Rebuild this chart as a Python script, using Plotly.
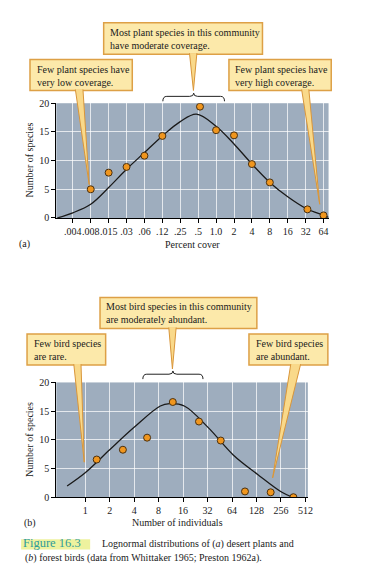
import plotly.graph_objects as go

W, H = 366, 571

# ---------------- data (a) desert plants ----------------
a_tick_labels = ['.004', '.008', '.015', '.03', '.06', '.12', '.25', '.5', '1.0',
                 '2', '4', '8', '16', '32', '64']
a_tick_pos = list(range(len(a_tick_labels)))          # octave class index
a_pts_x = [1, 2, 3, 4, 5, 7.1, 8, 9, 10, 11, 13.1, 14]
a_pts_y = [5.0, 7.9, 8.9, 10.85, 14.3, 19.4, 15.3, 14.4, 9.4, 6.2, 1.5, 0.45]
a_curve_x = [-0.86, 0, 1, 2, 3, 4, 5, 6, 6.9, 8, 9, 10, 11, 12, 13, 14, 14.28]
a_curve_y = [0.0, 0.9, 2.4, 5.3, 8.5, 11.4, 14.3, 16.8, 18.1, 16.0, 12.9, 9.4, 6.2,
             3.7, 1.7, 0.45, 0.1]

# ---------------- data (b) forest birds ----------------
b_tick_labels = ['1', '2', '4', '8', '16', '32', '64', '128', '256', '512']
b_tick_pos = list(range(len(b_tick_labels)))
b_pts_x = [0.47, 1.54, 2.53, 3.58, 4.65, 5.54, 6.53, 7.58, 8.51]
b_pts_y = [6.6, 8.3, 10.4, 16.6, 13.2, 9.9, 1.05, 0.9, 0.05]
b_curve_x = [-0.74, 0, 1, 2, 3.07, 3.45, 4.05, 5.04, 6.05, 7.05, 8.04, 8.5]
b_curve_y = [2.0, 4.3, 8.3, 12.2, 15.9, 16.3, 15.9, 12.1, 7.4, 4.0, 0.9, 0.0]

y_ticks = [0, 5, 10, 15, 20]


def px(x):
    return x / W


def py(y):
    return 1 - y / H


FONT = 'Liberation Serif'
BG = '#9eadbe'
GRID = 'rgba(255,255,255,0.72)'
BOX_FILL = '#fce9aa'
BOX_LINE = '#dda046'
WEDGE_FILL = '#f9d98a'
WEDGE_LINE = '#d9963a'
MARK = '#f0961e'

fig = go.Figure()

fig.add_trace(go.Scatter(x=a_curve_x, y=a_curve_y, mode='lines',
                         line=dict(color='#1a1a1a', width=1.3, shape='spline', smoothing=1.0),
                         xaxis='x', yaxis='y', hoverinfo='skip'))
fig.add_trace(go.Scatter(x=a_pts_x, y=a_pts_y, mode='markers',
                         marker=dict(size=7, color=MARK, line=dict(color='#4a3010', width=1)),
                         xaxis='x', yaxis='y'))
fig.add_trace(go.Scatter(x=b_curve_x, y=b_curve_y, mode='lines',
                         line=dict(color='#1a1a1a', width=1.3, shape='spline', smoothing=1.0),
                         xaxis='x2', yaxis='y2', hoverinfo='skip'))
fig.add_trace(go.Scatter(x=b_pts_x, y=b_pts_y, mode='markers',
                         marker=dict(size=7, color=MARK, line=dict(color='#4a3010', width=1)),
                         xaxis='x2', yaxis='y2'))

xcommon = dict(showline=True, linecolor='black', linewidth=1, ticks='outside', ticklen=4,
               tickcolor='black', tickwidth=1, showgrid=True, gridcolor=GRID, gridwidth=1.2,
               zeroline=False, tickangle=0, tickfont=dict(family=FONT, size=10, color='#222'),
               fixedrange=True)
ycommon = dict(showline=True, linecolor='black', linewidth=1, ticks='outside', ticklen=4,
               tickcolor='black', tickwidth=1, showgrid=True, gridcolor=GRID, gridwidth=1.2,
               zeroline=False, range=[0, 20], tickvals=y_ticks,
               tickfont=dict(family=FONT, size=10, color='#222'), fixedrange=True)

fig.update_layout(
    width=W, height=H, margin=dict(l=0, r=0, t=0, b=0),
    paper_bgcolor='white', plot_bgcolor=BG, showlegend=False,
    font=dict(family=FONT, size=10, color='#222'),
    xaxis=dict(domain=[px(49), px(325)], range=[-0.92, 14.28], tickvals=a_tick_pos,
               ticktext=a_tick_labels, anchor='y', **xcommon),
    yaxis=dict(domain=[py(209), py(92)], anchor='x', **ycommon),
    xaxis2=dict(domain=[px(49), px(304)], range=[-1.18, 9.1], tickvals=b_tick_pos,
                ticktext=b_tick_labels, anchor='y2', **xcommon),
    yaxis2=dict(domain=[py(494), py(376.7)], anchor='x2', **ycommon),
)

shapes = []


def box(x0, y0, x1, y1):
    shapes.append(dict(type='rect', xref='paper', yref='paper', x0=px(x0), x1=px(x1),
                       y0=py(y1), y1=py(y0), fillcolor=BOX_FILL,
                       line=dict(color=BOX_LINE, width=1.5), layer='above'))


def wedge(xa, xb, ytop, tx, ty):
    path = 'M {},{} L {},{} L {},{}'.format(px(xa), py(ytop), px(tx), py(ty), px(xb), py(ytop))
    shapes.append(dict(type='path', xref='paper', yref='paper', path=path,
                       fillcolor=WEDGE_FILL, line=dict(color=WEDGE_LINE, width=1), layer='above'))


def brace(x0, x1, yend, yflat, ytip):
    xm = (x0 + x1) / 2
    pts = [
        ('M', [(x0, yend)]),
        ('Q', [(x0, yflat), (x0 + 4, yflat)]),
        ('L', [(xm - 4, yflat)]),
        ('Q', [(xm, yflat), (xm, ytip)]),
        ('Q', [(xm, yflat), (xm + 4, yflat)]),
        ('L', [(x1 - 4, yflat)]),
        ('Q', [(x1, yflat), (x1, yend)]),
    ]
    s = ''
    for cmd, ps in pts:
        s += cmd + ' ' + ' '.join('{},{}'.format(px(a), py(b)) for a, b in ps) + ' '
    shapes.append(dict(type='path', xref='paper', yref='paper', path=s.strip(),
                       line=dict(color='#222', width=1), layer='above'))


# top panel callouts
box(97, 10, 258, 42)
wedge(184, 191.5, 41, 188, 79)
box(22.3, 47.3, 126, 79)
wedge(68.3, 76, 78, 82.3, 175)
box(224, 47.3, 327.7, 79)
wedge(297.7, 305, 78, 316, 195)
brace(157, 219.5, 90, 85, 81.7)

# bottom panel callouts
box(93.3, 290, 252.3, 321.7)
wedge(163, 170.5, 320.7, 166.7, 363)
box(19.3, 327.3, 99, 359)
wedge(66.7, 74, 358, 77.3, 458)
box(244.3, 327.3, 324.3, 359)
wedge(286.7, 296.7, 358, 268.3, 474)
brace(136.7, 197.7, 373.3, 368.3, 365)

# caption highlight
shapes.append(dict(type='rect', xref='paper', yref='paper', x0=px(13.3), x1=px(83.3),
                   y0=py(547), y1=py(536.5), fillcolor='#eef29e', line=dict(width=0),
                   layer='below'))

fig.update_layout(shapes=shapes)

ann = []


def text(x, y, s, size=10, xanchor='left', color='#1a1a1a', angle=0, **kw):
    ann.append(dict(xref='paper', yref='paper', x=px(x), y=py(y), text=s, showarrow=False,
                    xanchor=xanchor, yanchor='middle', align='left', borderpad=0,
                    textangle=angle, font=dict(family=FONT, size=size, color=color), **kw))


text(102.5, 26.7, 'Most plant species in this community<br>have moderate coverage.')
text(28, 63.8, 'Few plant species have<br>very low coverage.')
text(229.3, 63.8, 'Few plant species have<br>very high coverage.')
text(98.7, 306.3, 'Most bird species in this community<br>are moderately abundant.')
text(25, 343.7, 'Few bird species<br>are rare.')
text(250, 343.7, 'Few bird species<br>are abundant.')

text(21.7, 150, 'Number of species', angle=-90, xanchor='center')
text(21.7, 435, 'Number of species', angle=-90, xanchor='center')
text(10, 236, '(a)')
text(187, 236, 'Percent cover', xanchor='center')
text(15, 520.5, '(b)')
text(172.3, 520, 'Number of individuals', xanchor='center')

# caption
text(13.8, 540.5, 'Figure 16.3', size=12.5, color='#2e9c9a')
text(94.3, 541, 'Lognormal distributions of (<i>a</i>) desert plants and')
text(16.7, 556, '(<i>b</i>) forest birds (data from Whittaker 1965; Preston 1962a).')

fig.update_layout(annotations=ann)

fig.write_html('out.html')
